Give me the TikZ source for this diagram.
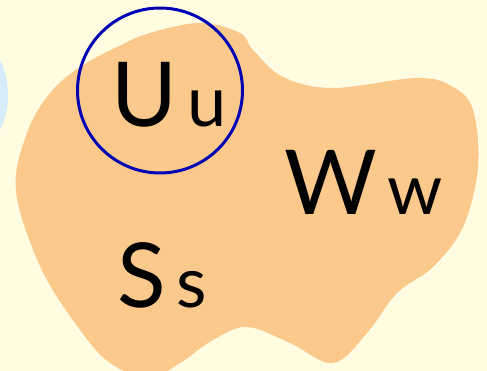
\documentclass[tikz,border=0pt]{standalone}
\usepackage{fontspec}
\setmainfont{Lato}
\definecolor{paper}{RGB}{255,252,226}
\definecolor{blob}{RGB}{250,201,139}
\definecolor{sky}{RGB}{214,236,250}
\definecolor{ring}{RGB}{0,0,180}
\usetikzlibrary{positioning}
\newcommand{\pairtxt}[2]{{\fontsize{51}{51}\selectfont #1}\hspace{6pt}{\fontsize{40}{40}\selectfont #2}}
\tikzset{
  letters/.style={anchor=base west, inner sep=0pt, text=black},
  halo/.style={draw=ring, line width=1.7pt, circle, minimum size=3.3cm, inner sep=0pt},
}
\begin{document}
\begin{tikzpicture}[x=0.02cm, y=0.02cm]
  \fill[paper] (0,0) rectangle (487,371);
  \useasboundingbox (0,0) rectangle (487,371);
  \clip (0,0) rectangle (487,371);
  % neighbouring region, only its edge shows
  \fill[sky] (-18,276) ellipse [x radius=26, y radius=48];
  % the main region
  \fill[blob] plot[smooth cycle, tension=0.6] coordinates {
    (200,348) (240,338) (253,321) (283,294) (333,283) (417,293) (453,284)
    (473,261) (478,204) (463,144) (433,104) (397,78) (367,38) (333,8)
    (290,28) (247,44) (213,31) (180,8) (150,-6) (110,8) (75,48) (40,105)
    (16,180) (27,238) (50,278) (80,304) (117,324) (150,338)};
  \node[halo] (ring) at (160,280.5) {};
  \node[letters] (uu) at (111,244) {\pairtxt{U}{u}};
  \node[letters] (ww) at (284,156) {\pairtxt{W}{w}};
  \node[letters] (ss) at (117,63) {\pairtxt{S}{s}};
\end{tikzpicture}
\end{document}
